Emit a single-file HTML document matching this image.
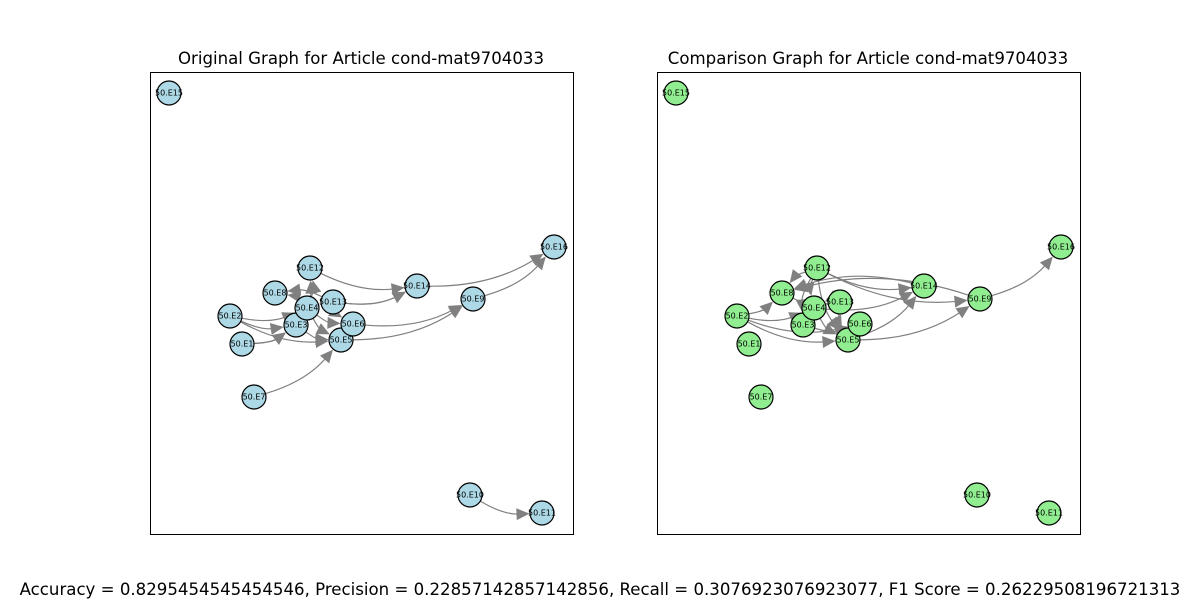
<!DOCTYPE html>
<html><head><meta charset="utf-8"><style>
body{margin:0;background:#fff;width:1200px;height:600px;overflow:hidden;font-family:"DejaVu Sans","Liberation Sans",sans-serif}
</style></head><body>
<svg id="svg" width="1200" height="600" xmlns="http://www.w3.org/2000/svg" font-family="DejaVu Sans, Liberation Sans, sans-serif">
<rect width="1200" height="600" fill="#fff"/>
<text x="361" y="64" font-size="16.6" text-anchor="middle">Original Graph for Article cond-mat9704033</text>
<text x="868" y="64" font-size="16.6" text-anchor="middle">Comparison Graph for Article cond-mat9704033</text>
<rect x="150.5" y="72.5" width="423" height="462" fill="none" stroke="#000"/>
<rect x="657.5" y="72.5" width="423" height="462" fill="none" stroke="#000"/>
<g id="left"></g>
<g id="right"></g>
<text x="600" y="595" font-size="16.6" text-anchor="middle">Accuracy = 0.8295454545454546, Precision = 0.22857142857142856, Recall = 0.3076923076923077, F1 Score = 0.26229508196721313</text>
</svg>
<script>
const nodeNames = ["E1","E2","E3","E4","E5","E6","E7","E8","E9","E10","E11","E12","E13","E14","E15","E16"];
const nodeX = [242,230,296,307,341,353,254,275,473,470,542,310,333,417,169,554];
const nodeY = [344,316,325,308,340,324,397,293,299,495,513,268,302,286,93,247];
const leftEdges = [["E1","E3"],["E1","E3"],["E2","E3"],["E2","E4"],["E7","E5"],["E5","E9"],["E6","E9"],["E9","E16"],["E14","E16"],["E12","E14"],["E13","E14"],["E13","E14"],["E4","E12"],["E3","E12"],["E4","E8"],["E13","E8"],["E4","E5"],["E4","E6"],["E3","E5"],["E2","E5"],["E13","E6"],["E10","E11"]];
const rightEdges = [["E2","E8"],["E2","E4"],["E2","E5"],["E2","E6"],["E12","E9"],["E12","E14"],["E4","E14"],["E5","E9"],["E5","E14"],["E9","E16"],["E14","E8"],["E9","E8"],["E12","E4"],["E13","E4"],["E12","E3"],["E8","E13"],["E3","E6"],["E4","E5"],["E12","E5"],["E13","E5"],["E12","E8"],["E4","E3"]];
const NS="http://www.w3.org/2000/svg";
function draw(gid, edges, dx, fill){
  const g=document.getElementById(gid);
  const idx=n=>nodeNames.indexOf(n);
  edges.forEach(e=>{
    const a=idx(e[0]), b=idx(e[1]);
    const x1=nodeX[a]+dx,y1=nodeY[a],x2=nodeX[b]+dx,y2=nodeY[b];
    const f=0.15, ddx=x2-x1, ddy=y2-y1;
    const cx=(x1+x2)/2 - f*ddy, cy=(y1+y2)/2 + f*ddx;
    let vx=x2-cx, vy=y2-cy, L=Math.hypot(vx,vy); vx/=L; vy/=L;
    let ux=cx-x1, uy=cy-y1, L2=Math.hypot(ux,uy); ux/=L2; uy/=L2;
    const r=12.5;
    const sx=x1+ux*r, sy=y1+uy*r, ex=x2-vx*r, ey=y2-vy*r;
    const p=document.createElementNS(NS,"path");
    p.setAttribute("d",`M${sx},${sy} Q${cx},${cy} ${ex-vx*10},${ey-vy*10}`);
    p.setAttribute("fill","none");p.setAttribute("stroke","#808080");p.setAttribute("stroke-width","1.2");
    
    
    g.appendChild(p);
    const t=document.createElementNS(NS,"polygon");
    const bx=ex-vx*13, by=ey-vy*13, w=6;
    t.setAttribute("points",`${ex},${ey} ${bx-vy*w},${by+vx*w} ${bx+vy*w},${by-vx*w}`);
    t.setAttribute("fill","#808080");
    
    
    g.appendChild(t);
  });
  nodeNames.forEach((n,i)=>{
    const c=document.createElementNS(NS,"circle");
    c.setAttribute("cx",nodeX[i]+dx);c.setAttribute("cy",nodeY[i]);c.setAttribute("r","12");
    c.setAttribute("fill",fill);c.setAttribute("stroke","#000");c.setAttribute("stroke-width","1.2");
    
    
    g.appendChild(c);
    const t=document.createElementNS(NS,"text");
    t.setAttribute("x",nodeX[i]+dx);t.setAttribute("y",nodeY[i]+2.5);
    t.setAttribute("font-size","8");t.setAttribute("text-anchor","middle");
    t.textContent="50."+n;
    
    
    g.appendChild(t);
  });
}
draw("left",leftEdges,0,"#add8e6");
draw("right",rightEdges,507,"#90ee90");
</script>
</body></html>
